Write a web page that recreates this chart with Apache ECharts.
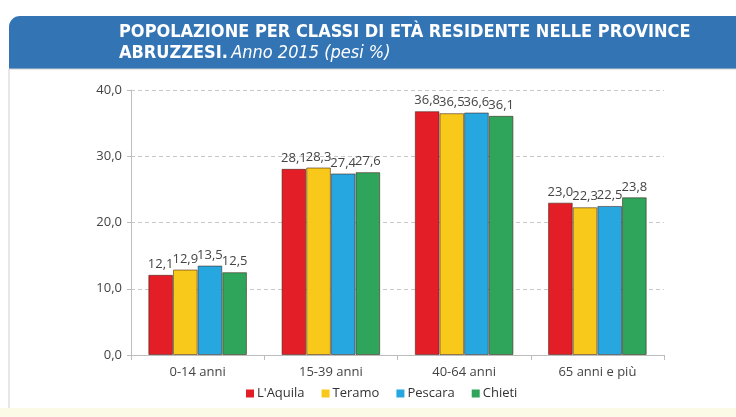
<!DOCTYPE html>
<html>
<head>
<meta charset="utf-8">
<script src="https://cdn.jsdelivr.net/npm/echarts@6/dist/echarts.min.js"></script>
<style>
  html, body { margin: 0; padding: 0; background: #ffffff; }
  #chart { width: 736px; height: 417px; }
</style>
</head>
<body>
<div id="chart"></div>
<script>
const categories = ['0-14 anni', '15-39 anni', '40-64 anni', '65 anni e più'];
const seriesNames = ["L'Aquila", 'Teramo', 'Pescara', 'Chieti'];
const laquila = [12.1, 28.1, 36.8, 23.0];
const teramo = [12.9, 28.3, 36.5, 22.3];
const pescara = [13.5, 27.4, 36.6, 22.5];
const chieti = [12.5, 27.6, 36.1, 23.8];
const colors = ['#e41e26', '#f8c81a', '#27a7df', '#2fa55b'];

const fmt = (v) => v.toFixed(1).replace('.', ',');
const font = 'Open Sans, Lato, DejaVu Sans, sans-serif';
const titleFont = 'DejaVu Sans Condensed, sans-serif';

const chart = echarts.init(document.getElementById('chart'), null, { renderer: 'canvas' });

const makeSeries = (name, data, i) => ({
  name: name,
  type: 'bar',
  data: data,
  barGap: '0%',
  barCategoryGap: '26%',
  itemStyle: {
    color: colors[i],
    borderColor: 'rgba(60, 30, 20, 0.55)',
    borderWidth: 1
  },
  label: {
    show: true,
    position: 'top',
    distance: 4,
    color: '#444',
    fontFamily: font,
    fontSize: 13,
    formatter: (p) => fmt(p.value)
  }
});

chart.setOption({
  animation: false,
  color: colors,
  graphic: [
    {
      type: 'rect',
      shape: { x: 9, y: 16, width: 740, height: 53, r: [11, 0, 0, 0] },
      style: { fill: '#3374b5' },
      silent: true
    },
    {
      type: 'rect',
      shape: { x: 9, y: 69, width: 740, height: 340 },
      style: { fill: 'none', stroke: '#cfcfcf', lineWidth: 1 },
      silent: true
    },
    {
      type: 'rect',
      shape: { x: 0, y: 408, width: 736, height: 9 },
      style: { fill: '#fbfae6' },
      silent: true
    }
  ],
  title: {
    left: 114,
    top: 18,
    itemGap: 3,
    text: 'POPOLAZIONE PER CLASSI DI ETÀ RESIDENTE NELLE PROVINCE',
    textStyle: {
      color: '#ffffff',
      fontFamily: titleFont,
      fontWeight: 'bold',
      fontSize: 18
    },
    subtext: '{b|ABRUZZESI.} {i|Anno 2015 (pesi %)}',
    subtextStyle: {
      rich: {
        b: {
          color: '#ffffff',
          fontFamily: titleFont,
          fontWeight: 'bold',
          fontSize: 18
        },
        i: {
          color: '#ffffff',
          fontFamily: titleFont,
          fontStyle: 'italic',
          fontSize: 18
        }
      }
    }
  },
  grid: {
    left: 131,
    right: 72,
    top: 90,
    bottom: 62
  },
  legend: {
    data: seriesNames,
    bottom: 12,
    left: 241,
    itemWidth: 8,
    itemHeight: 8,
    itemGap: 17,
    icon: 'rect',
    itemStyle: { borderWidth: 0 },
    textStyle: {
      color: '#333',
      fontFamily: font,
      fontSize: 13,
      padding: [0, 0, 0, -2]
    }
  },
  xAxis: {
    type: 'category',
    data: categories,
    axisLine: { lineStyle: { color: '#bdbdbd' } },
    axisTick: { show: true, length: 5, lineStyle: { color: '#bdbdbd' } },
    axisLabel: {
      color: '#444',
      fontFamily: font,
      fontSize: 13,
      margin: 11
    }
  },
  yAxis: {
    type: 'value',
    min: 0,
    max: 40,
    interval: 10,
    axisLine: { show: true, lineStyle: { color: '#bdbdbd' } },
    axisTick: { show: true, length: 4, lineStyle: { color: '#bdbdbd' } },
    axisLabel: {
      color: '#444',
      fontFamily: font,
      fontSize: 13,
      margin: 9,
      formatter: (v) => fmt(v)
    },
    splitLine: {
      lineStyle: { color: '#c8c8c8', type: [4, 3] }
    }
  },
  series: [
    makeSeries(seriesNames[0], laquila, 0),
    makeSeries(seriesNames[1], teramo, 1),
    makeSeries(seriesNames[2], pescara, 2),
    makeSeries(seriesNames[3], chieti, 3)
  ]
});
</script>
</body>
</html>
